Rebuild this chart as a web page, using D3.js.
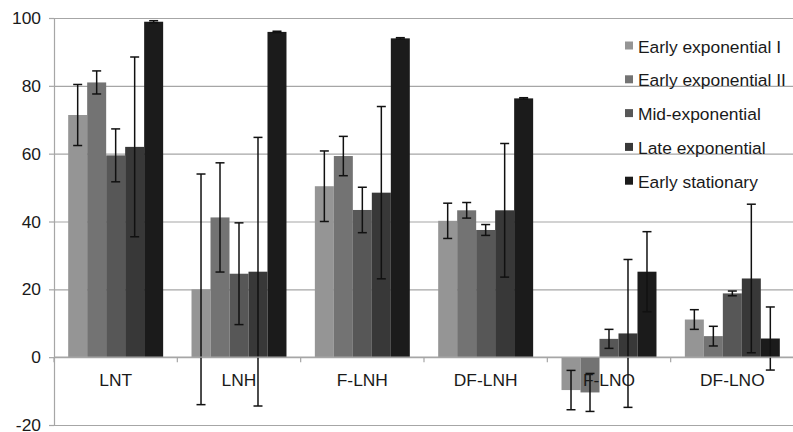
<!DOCTYPE html>
<html>
<head>
<meta charset="utf-8">
<script src="https://cdn.jsdelivr.net/npm/d3@7"></script>
<style>
  body { margin: 0; background: #fff; }
  svg text { font-family: "Liberation Sans", Arial, sans-serif; }
</style>
</head>
<body>
<div id="chart"></div>
<script>
(function(){
	// data
	var categories = ["LNT", "LNH", "F-LNH", "DF-LNH", "F-LNO", "DF-LNO"];
	var seriesNames = ["Early exponential I", "Early exponential II", "Mid-exponential", "Late exponential", "Early stationary"];
	var earlyExpI   = [71.4, 20.0, 50.4, 40.2, -9.7, 11.1];
	var earlyExpII  = [81.0, 41.2, 59.3, 43.3, -10.4, 6.2];
	var midExp      = [59.5, 24.6, 43.4, 37.5, 5.4, 18.8];
	var lateExp     = [62.0, 25.2, 48.5, 43.3, 7.0, 23.2];
	var earlyStat   = [98.9, 95.9, 94.0, 76.3, 25.2, 5.5];
	var errEarlyI   = [9.0, 34.0, 10.4, 5.2, 5.8, 2.9];
	var errEarlyII  = [3.4, 16.1, 5.8, 2.3, 5.6, 2.9];
	var errMid      = [7.8, 15.0, 6.7, 1.6, 2.8, 0.7];
	var errLate     = [26.5, 39.6, 25.4, 19.7, 21.8, 21.9];
	var errStat     = [0.3, 0.2, 0.2, 0.2, 11.8, 9.3];
	var yTicks = [-20, 0, 20, 40, 60, 80, 100];

	var values = [earlyExpI, earlyExpII, midExp, lateExp, earlyStat];
	var errors = [errEarlyI, errEarlyII, errMid, errLate, errStat];
	var colors = ["#959595", "#737373", "#575757", "#383838", "#1b1b1b"];

	var W = 793, H = 432;
	var left = 54, right = 794, top = 18, bottom = 425;
	var FS = 17.4;

	var svg = d3.select("#chart").append("svg")
		.attr("width", W)
		.attr("height", H);

	var y = d3.scaleLinear().domain([-20, 100]).range([bottom, top]);
	var x0 = d3.scaleBand().domain(categories).range([left, right]).padding(0);
	var bw = x0.bandwidth();
	var pad = bw * 0.115;
	var x1 = d3.scaleBand().domain(d3.range(seriesNames.length)).range([pad, bw - pad]).padding(0);

	// grid lines
	svg.append("g")
		.attr("transform", "translate(" + left + ",0)")
		.call(d3.axisLeft(y).tickValues(yTicks).tickSize(-(right - left)).tickFormat(""))
		.call(function(g){
			g.select(".domain").remove();
			g.selectAll("line").attr("stroke", "#a6a6a6").attr("stroke-width", 1.2);
		});

	// y axis
	svg.append("g")
		.attr("transform", "translate(" + left + ",0)")
		.call(d3.axisLeft(y).tickValues(yTicks).tickSize(5).tickPadding(8).tickSizeOuter(0)
			.tickFormat(function(d){ return String(d); }))
		.call(function(g){
			g.select(".domain").attr("stroke", "#a6a6a6").attr("stroke-width", 1.2);
			g.selectAll("line").attr("stroke", "#a6a6a6").attr("stroke-width", 1.2);
			g.selectAll("text").attr("font-size", FS).attr("fill", "#1a1a1a");
		});

	// bars
	var groups = svg.selectAll("g.grp")
		.data(categories)
		.enter()
		.append("g")
		.attr("class", "grp")
		.attr("transform", function(d){ return "translate(" + x0(d) + ",0)"; });

	groups.selectAll("rect")
		.data(function(d, ci){
			return values.map(function(s, si){ return {si: si, v: s[ci], e: errors[si][ci]}; });
		})
		.enter()
		.append("rect")
		.attr("x", function(d){ return x1(d.si); })
		.attr("width", x1.bandwidth())
		.attr("y", function(d){ return y(Math.max(0, d.v)); })
		.attr("height", function(d){ return Math.abs(y(d.v) - y(0)); })
		.attr("fill", function(d){ return colors[d.si]; });

	// x axis line at zero with ticks between groups
	var xa = svg.append("g").attr("transform", "translate(0," + y(0) + ")");
	xa.append("line")
		.attr("x1", left).attr("x2", right)
		.attr("stroke", "#a6a6a6").attr("stroke-width", 1.2);
	xa.selectAll("line.tk")
		.data(categories.concat(["end"]))
		.enter()
		.append("line")
		.attr("class", "tk")
		.attr("x1", function(d, i){ return left + i * bw; })
		.attr("x2", function(d, i){ return left + i * bw; })
		.attr("y1", 0).attr("y2", 5)
		.attr("stroke", "#a6a6a6").attr("stroke-width", 1.2);
	xa.selectAll("text")
		.data(categories)
		.enter()
		.append("text")
		.attr("x", function(d){ return x0(d) + bw / 2; })
		.attr("y", 29)
		.attr("text-anchor", "middle")
		.attr("font-size", FS)
		.attr("fill", "#1a1a1a")
		.text(function(d){ return d; });

	// error bars
	var eb = groups.selectAll("g.err")
		.data(function(d, ci){
			return values.map(function(s, si){ return {si: si, v: s[ci], e: errors[si][ci]}; });
		})
		.enter()
		.append("g")
		.attr("class", "err")
		.attr("stroke", "#111")
		.attr("stroke-width", 1.5);
	eb.append("line")
		.attr("x1", function(d){ return x1(d.si) + x1.bandwidth() / 2; })
		.attr("x2", function(d){ return x1(d.si) + x1.bandwidth() / 2; })
		.attr("y1", function(d){ return y(d.v + d.e); })
		.attr("y2", function(d){ return y(d.v - d.e); });
	[1, -1].forEach(function(sg){
		eb.append("line")
			.attr("x1", function(d){ return x1(d.si) + x1.bandwidth() / 2 - 4.5; })
			.attr("x2", function(d){ return x1(d.si) + x1.bandwidth() / 2 + 4.5; })
			.attr("y1", function(d){ return y(d.v + sg * d.e); })
			.attr("y2", function(d){ return y(d.v + sg * d.e); });
	});

	// legend
	var lg = svg.selectAll("g.lg")
		.data(seriesNames)
		.enter()
		.append("g")
		.attr("class", "lg")
		.attr("transform", function(d, i){ return "translate(625," + (46 + i * 33.8) + ")"; });
	lg.append("rect")
		.attr("x", 0).attr("y", -4.5)
		.attr("width", 8).attr("height", 8)
		.attr("fill", function(d, i){ return colors[i]; });
	lg.append("text")
		.attr("x", 13)
		.attr("y", 6.5)
		.attr("font-size", FS)
		.attr("fill", "#1a1a1a")
		.text(function(d){ return d; });
})();
</script>
</body>
</html>
